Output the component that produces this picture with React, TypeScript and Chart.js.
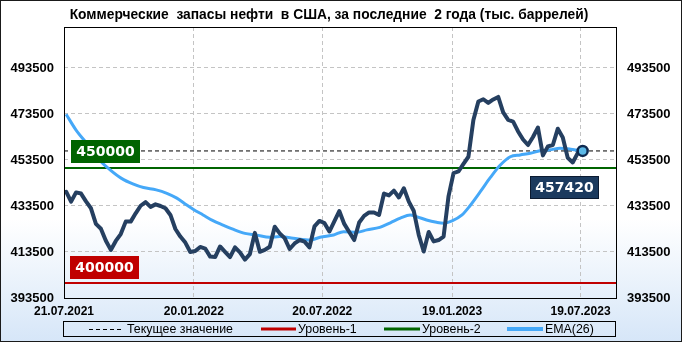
import React, { useEffect, useRef } from 'react';
import { Chart, registerables } from 'chart.js';

Chart.register(...registerables);

const titleText = 'Коммерческие  запасы нефти  в США, за последние  2 года (тыс. баррелей)';
const xTickDays = [0, 183, 364, 547, 728];
const xTickLabels = ['21.07.2021', '20.01.2022', '20.07.2022', '19.01.2023', '19.07.2023'];
const yTickValues = [393500, 413500, 433500, 453500, 473500, 493500];
const firstDataDay = 3;
const daysPerWeek = 7;

const stockValues = [
  439700, 435400, 439400, 438900, 435500, 432500, 425700, 423600, 418400, 414400,
  418300, 421300, 426700, 426700, 430300, 433600, 435200, 433100, 434200, 433500,
  432500, 429600, 423500, 420200, 417600, 413500, 413900, 415700, 415000, 411500,
  411300, 415900, 413600, 411300, 415500, 413300, 410200, 412600, 421800, 413600,
  414400, 415800, 424500, 421600, 419500, 414800, 417200, 418700, 418000, 415500,
  424600, 427000, 426100, 422400, 426800, 431300, 425700, 422200, 418700, 426300,
  429200, 430700, 430700, 429600, 438900, 438100, 440200, 437200, 441200, 435400,
  431300, 420900, 413700, 422200, 418100, 418700, 420200, 437800, 447800, 448500,
  451800, 454900, 470900, 478900, 479900, 478300, 479800, 480900, 474200, 470900,
  470200, 465900, 462400, 460000, 463500, 467600, 455500, 459400, 460000, 467100,
  463300, 454400, 452400, 456500, 457420,
];

const emaDays = [
  3, 17, 36, 50, 65, 81, 97, 112, 130, 145, 159, 173, 182, 196, 210, 224, 238, 255, 271, 290,
  304, 323, 347, 361, 380, 394, 413, 427, 445, 460, 474, 488, 497, 511, 525, 535, 547, 561, 572,
  587, 601, 615, 629, 643, 657, 671, 685, 699, 714, 728, 731,
];
const emaValues = [
  473400, 466500, 459300, 453500, 449200, 445500, 443100, 441500, 440500, 439000, 436900, 433900,
  432100, 429600, 427100, 425200, 423400, 421600, 420900, 419900, 420200, 419500, 418700, 419900,
  420900, 422300, 422100, 423100, 424200, 426200, 428200, 429600, 428900, 427400, 426400, 426000,
  427000, 429600, 433500, 439800, 445900, 451300, 454900, 455700, 456400, 457500, 457900, 458600,
  458200, 457500, 457420,
];

const level1 = 400000;
const level2 = 450000;
const legendLabels = ['Текущее значение', 'Уровень-1', 'Уровень-2', 'EMA(26)'];
const yMin = 393500;
const yMax = 511300;
const xMax = 778;

const COLORS = {
  main: '#253f60',
  ema: '#45a8f8',
  red: '#c00000',
  green: '#006400',
  grid: '#c4c4c4',
};

const stockPoints = stockValues.map((v, i) => ({ x: firstDataDay + i * daysPerWeek, y: v }));
const emaPoints = emaValues.map((v, i) => ({ x: emaDays[i], y: v }));
const lastPoint = stockPoints[stockPoints.length - 1];
const currentValue = lastPoint.y;

function drawBox(ctx: CanvasRenderingContext2D, text: string, x: number, yTop: number, fill: string, stroke?: string) {
  ctx.save();
  ctx.font = 'bold 14px "DejaVu Sans"';
  const w = Math.round(ctx.measureText(text).width + 11);
  const h = 23;
  ctx.fillStyle = fill;
  ctx.fillRect(x, yTop, w, h);
  if (stroke) {
    ctx.strokeStyle = stroke;
    ctx.lineWidth = 1;
    ctx.strokeRect(x + 0.5, yTop + 0.5, w - 1, h - 1);
  }
  ctx.fillStyle = '#ffffff';
  ctx.textAlign = 'center';
  ctx.textBaseline = 'middle';
  ctx.fillText(text, x + w / 2, yTop + h / 2 + 1);
  ctx.restore();
  return w;
}

const decorPlugin = {
  id: 'decor',
  beforeDraw(chart: any) {
    const { ctx, width, height } = chart;
    const g = ctx.createLinearGradient(0, 0, 0, height);
    g.addColorStop(0, '#ffffff');
    g.addColorStop(0.64, '#ffffff');
    g.addColorStop(1, '#d6e6f8');
    ctx.save();
    ctx.fillStyle = g;
    ctx.fillRect(0, 0, width, height);
    ctx.restore();
  },
  afterDatasetsDraw(chart: any) {
    const { ctx, chartArea } = chart;
    const ys = chart.scales.y;
    const xs = chart.scales.x;
    ctx.save();
    ctx.strokeStyle = '#000';
    ctx.lineWidth = 1;
    ctx.strokeRect(
      Math.round(chartArea.left) + 0.5,
      Math.round(chartArea.top) + 0.5,
      Math.round(chartArea.right - chartArea.left),
      Math.round(chartArea.bottom - chartArea.top)
    );
    ctx.restore();
    const y2 = ys.getPixelForValue(level2);
    const y1 = ys.getPixelForValue(level1);
    drawBox(ctx, String(level2), Math.round(chartArea.left) + 7, Math.round(y2) - 28, COLORS.green);
    drawBox(ctx, String(level1), Math.round(chartArea.left) + 6, Math.round(y1) - 27, COLORS.red);
    const px = xs.getPixelForValue(lastPoint.x);
    const py = ys.getPixelForValue(lastPoint.y);
    ctx.save();
    ctx.font = 'bold 14px "DejaVu Sans"';
    const w = Math.round(ctx.measureText(String(currentValue)).width + 11);
    ctx.restore();
    drawBox(ctx, String(currentValue), Math.round(px + 16 - w), Math.round(py + 25), '#1b3a5e', '#0b1a30');
  },
  afterDraw(chart: any) {
    const { ctx, width, height } = chart;
    ctx.save();
    // title
    ctx.fillStyle = '#000';
    ctx.font = 'bold 13.8px "Liberation Sans"';
    ctx.textAlign = 'center';
    ctx.textBaseline = 'middle';
    ctx.fillText(titleText, 329, 15);
    // legend
    const lt = 321.5;
    const lh = 15;
    const ly = lt + lh / 2;
    ctx.strokeStyle = '#000';
    ctx.lineWidth = 1;
    ctx.strokeRect(63.5, lt, 552, lh);
    ctx.font = '12.4px "Liberation Sans"';
    ctx.textAlign = 'left';
    ctx.fillStyle = '#000';
    ctx.beginPath();
    ctx.setLineDash([4, 3]);
    ctx.moveTo(89, Math.round(ly) + 0.5);
    ctx.lineTo(122, Math.round(ly) + 0.5);
    ctx.stroke();
    ctx.setLineDash([]);
    ctx.fillText(legendLabels[0], 127, ly + 1);
    const items = [
      { x0: 261, x1: 296, tx: 298, color: COLORS.red, lw: 3, label: legendLabels[1] },
      { x0: 384, x1: 420, tx: 422, color: COLORS.green, lw: 3, label: legendLabels[2] },
      { x0: 507, x1: 543, tx: 545, color: COLORS.ema, lw: 4, label: legendLabels[3] },
    ];
    for (const it of items) {
      ctx.beginPath();
      ctx.strokeStyle = it.color;
      ctx.lineWidth = it.lw;
      ctx.moveTo(it.x0, Math.round(ly));
      ctx.lineTo(it.x1, Math.round(ly));
      ctx.stroke();
      ctx.fillStyle = '#000';
      ctx.fillText(it.label, it.tx, ly + 1);
    }
    ctx.strokeStyle = '#1a1a1a';
    ctx.lineWidth = 1;
    ctx.strokeRect(0.5, 0.5, width - 1, height - 1);
    ctx.restore();
  },
};

export default function App() {
  const ref = useRef<HTMLCanvasElement | null>(null);
  useEffect(() => {
    document.body.style.margin = '0';
    const canvas = ref.current;
    if (!canvas) return;
    const yScaleBase = {
      type: 'linear' as const,
      min: yMin,
      max: yMax,
      afterBuildTicks: (axis: any) => {
        axis.ticks = yTickValues.map((v) => ({ value: v }));
      },
      ticks: {
        font: { family: 'Liberation Sans', size: 13, weight: 'bold' as const },
        color: '#000',
        callback: (v: any) => String(v),
      },
      border: { display: false, dash: [4, 3] },
    };
    const chart = new Chart(canvas, {
      type: 'line',
      data: {
        datasets: [
          {
            label: 'last',
            data: [lastPoint],
            showLine: false,
            pointRadius: 5,
            pointBackgroundColor: '#5bb8e6',
            pointBorderColor: '#0e2a50',
            pointBorderWidth: 2.5,
            order: 0,
          },
          {
            label: 'stock',
            data: stockPoints,
            borderColor: COLORS.main,
            borderWidth: 4,
            pointRadius: 0,
            tension: 0,
            borderJoinStyle: 'round',
            borderCapStyle: 'round',
            order: 1,
          },
          {
            label: legendLabels[3],
            data: emaPoints,
            borderColor: COLORS.ema,
            borderWidth: 3,
            pointRadius: 0,
            cubicInterpolationMode: 'monotone',
            order: 2,
          },
          {
            label: legendLabels[0],
            data: [
              { x: 0, y: currentValue },
              { x: xMax, y: currentValue },
            ],
            borderColor: '#000',
            borderWidth: 1,
            borderDash: [4, 3],
            pointRadius: 0,
            order: 3,
          },
          {
            label: legendLabels[2],
            data: [
              { x: 0, y: level2 },
              { x: xMax, y: level2 },
            ],
            borderColor: COLORS.green,
            borderWidth: 2,
            pointRadius: 0,
            order: 4,
          },
          {
            label: legendLabels[1],
            data: [
              { x: 0, y: level1 },
              { x: xMax, y: level1 },
            ],
            borderColor: COLORS.red,
            borderWidth: 2,
            pointRadius: 0,
            order: 5,
          },
        ],
      },
      options: {
        responsive: false,
        animation: false,
        events: [],
        layout: { padding: { top: 27, left: 0, right: 0, bottom: 0 } },
        plugins: { legend: { display: false }, tooltip: { enabled: false }, title: { display: false } },
        scales: {
          x: {
            type: 'linear',
            min: 0,
            max: xMax,
            afterBuildTicks: (axis: any) => {
              axis.ticks = xTickDays.map((v) => ({ value: v }));
            },
            afterFit: (axis: any) => {
              axis.height = 44;
            },
            ticks: {
              autoSkip: false,
              maxRotation: 0,
              padding: 6,
              font: { family: 'Liberation Sans', size: 12, weight: 'bold' },
              color: '#000',
              callback: (_v: any, i: number) => xTickLabels[i],
            },
            grid: { color: COLORS.grid, drawTicks: false, lineWidth: 1 },
            border: { display: false, dash: [4, 3] },
          },
          y: {
            ...yScaleBase,
            position: 'left',
            afterFit: (axis: any) => {
              axis.width = 64;
            },
            ticks: { ...yScaleBase.ticks, padding: 10 },
            grid: { color: COLORS.grid, drawTicks: false, lineWidth: 1 },
          },
          y2: {
            ...yScaleBase,
            position: 'right',
            afterFit: (axis: any) => {
              axis.width = 66;
            },
            ticks: { ...yScaleBase.ticks, padding: 11 },
            grid: { display: false, drawTicks: false },
          },
        },
      } as any,
      plugins: [decorPlugin],
    });
    return () => chart.destroy();
  }, []);
  return (
    <div style={{ width: 682, height: 342 }}>
      <canvas ref={ref} width={682} height={342} style={{ display: 'block' }} />
    </div>
  );
}
